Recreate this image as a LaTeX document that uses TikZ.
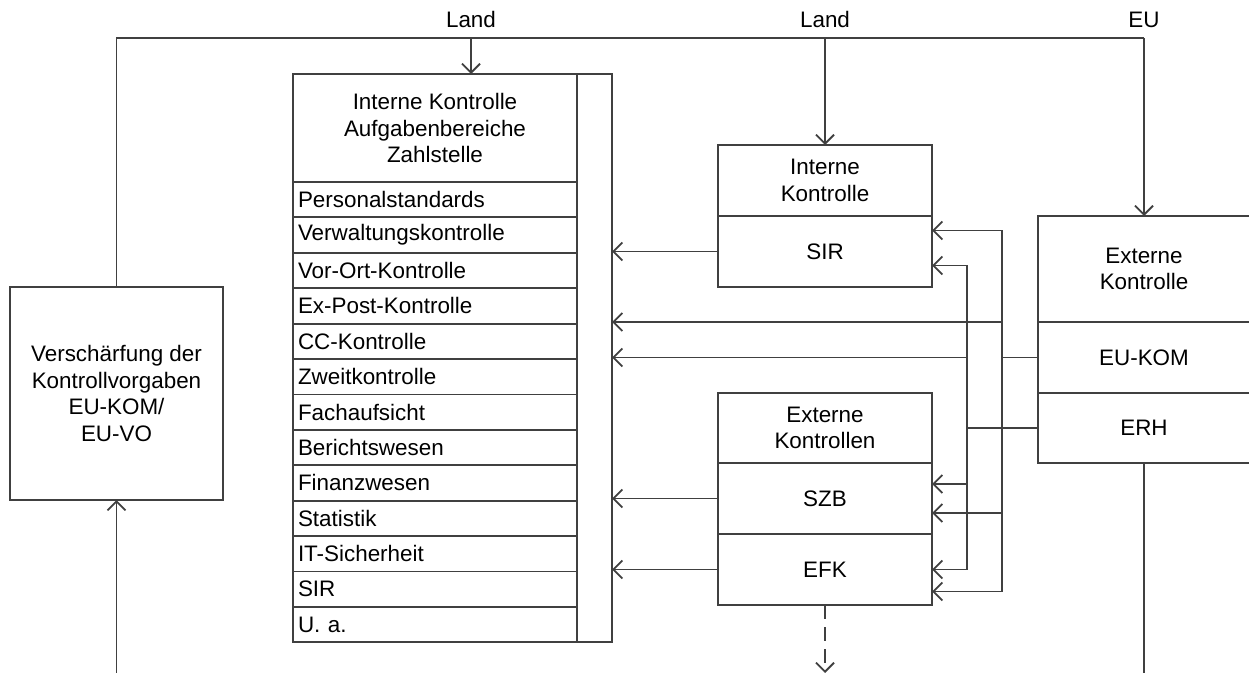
\documentclass[tikz,border=0pt]{standalone}
\usepackage{fontspec}
\setmainfont{Liberation Sans}
\usetikzlibrary{arrows.meta,positioning}
\definecolor{linie}{HTML}{404040}
\tikzstyle{kasten} = [draw=linie, line width=1.8bp, rectangle, inner sep=0pt, outer sep=0pt, align=center, font=\fontsize{22.5}{26.5}\selectfont]
\tikzstyle{zeile} = [kasten, minimum width=284bp, minimum height=35.4bp, text width=274bp, align=left]
\tikzstyle{mittel} = [kasten, minimum width=214bp, minimum height=71bp]
\tikzstyle{rechts} = [kasten, minimum width=212bp, minimum height=71bp]
\tikzstyle{verbindung} = [draw=linie, line width=1.8bp]
\tikzstyle{pfeil} = [verbindung, -{Straight Barb[length=9bp,width=18bp]}]
\tikzstyle{schrift} = [font=\fontsize{22.5}{26.5}\selectfont, inner sep=0pt, anchor=base]

\begin{document}
\begin{tikzpicture}[x=1bp, y=-1bp]
\useasboundingbox (0,0) rectangle (1249,673);
% linke Box
\node[kasten, anchor=north west, minimum width=213bp, minimum height=213bp] (vers) at (10,287) {Verschärfung der\\Kontrollvorgaben\\EU-KOM/\\EU-VO};
% Aufgabenbereiche der Zahlstelle
\node[kasten, anchor=north west, minimum width=284bp, minimum height=108bp] (kopf) at (293,74) {Interne Kontrolle\\Aufgabenbereiche\\Zahlstelle};
\foreach \txt [count=\i] in {Personalstandards, Verwaltungskontrolle, Vor-Ort-Kontrolle, Ex-Post-Kontrolle, CC-Kontrolle, Zweitkontrolle, Fachaufsicht, Berichtswesen, Finanzwesen, Statistik, IT-Sicherheit, SIR, U. a.}
  \node[zeile, anchor=north west] (z\i) at (293,{182+35.4*(\i-1)}) {\txt};
\node[kasten, anchor=north west, minimum width=35bp, minimum height=568bp] (leiste) at (577,74) {};
% Interne Kontrolle
\node[mittel, anchor=north west] (ik) at (718,145) {Interne\\Kontrolle};
\node[mittel, below=0pt of ik] (iksir) {SIR};
% Externe Kontrollen
\node[mittel, anchor=north west, minimum height=70bp] (ek) at (718,393) {Externe\\Kontrollen};
\node[mittel, below=0pt of ek] (ekszb) {SZB};
\node[mittel, below=0pt of ekszb] (ekefk) {EFK};
% Externe Kontrolle rechts
\node[rechts, anchor=north west, minimum height=106bp] (exk) at (1038,216) {Externe\\Kontrolle};
\node[rechts, below=0pt of exk] (exkom) {EU-KOM};
\node[rechts, below=0pt of exkom, minimum height=70bp] (exerh) {ERH};

% obere Leitung
\coordinate (lland) at (471,38);
\coordinate (rland) at (ik.north |- lland);
\coordinate (eu) at (exk.north |- lland);
\coordinate (unten) at (0,673);
\node[schrift] (t1) at ([yshift=10bp]lland) {Land};
\node[schrift] (t2) at ([yshift=10bp]rland) {Land};
\node[schrift] (t3) at ([yshift=10bp]eu) {EU};
\draw[verbindung] (vers.north) |- (eu);
\draw[pfeil] (lland) -- (lland |- kopf.north);
\draw[pfeil] (rland) -- (ik.north);
\draw[pfeil] (eu) -- (exk.north);
\draw[pfeil] (vers.south |- unten) -- (vers.south);
\draw[verbindung] (exerh.south) -- (exerh.south |- unten);
\draw[pfeil, dash pattern=on 14bp off 8bp] (ekefk.south) -- (ekefk.south |- unten);

% nach links in die Zahlstelle
\draw[pfeil] (iksir.west) -- (leiste.east |- iksir.west);
\draw[pfeil] (ekszb.west) -- (leiste.east |- ekszb.west);
\draw[pfeil] (ekefk.west) -- (leiste.east |- ekefk.west);

% EU-KOM und ERH
\coordinate (kom) at ([xshift=-36bp]exkom.west);
\coordinate (erh) at ([xshift=-71bp]exerh.west);
\coordinate (k1) at ([yshift=21bp]iksir.east);
\coordinate (k2) at ([yshift=-14.5bp]ekszb.east);
\coordinate (k3) at ([yshift=-22bp]ekefk.east);
\coordinate (e1) at ([yshift=-14bp]iksir.east);
\coordinate (e2) at ([yshift=14.5bp]ekszb.east);
\draw[verbindung] (exkom.west) -- (kom);
\draw[verbindung] (exerh.west) -- (erh);
\draw[pfeil] (kom) |- (k1);
\draw[pfeil] (kom) |- (k3);
\draw[pfeil] (kom |- k2) -- (k2);
\draw[pfeil] (kom |- exk.south) -- (leiste.east |- exk.south);
\draw[pfeil] (erh) |- (e1);
\draw[pfeil] (erh) |- (ekefk.east);
\draw[pfeil] (erh |- e2) -- (e2);
\draw[pfeil] (erh |- exkom.west) -- (leiste.east |- exkom.west);
\end{tikzpicture}
\end{document}
